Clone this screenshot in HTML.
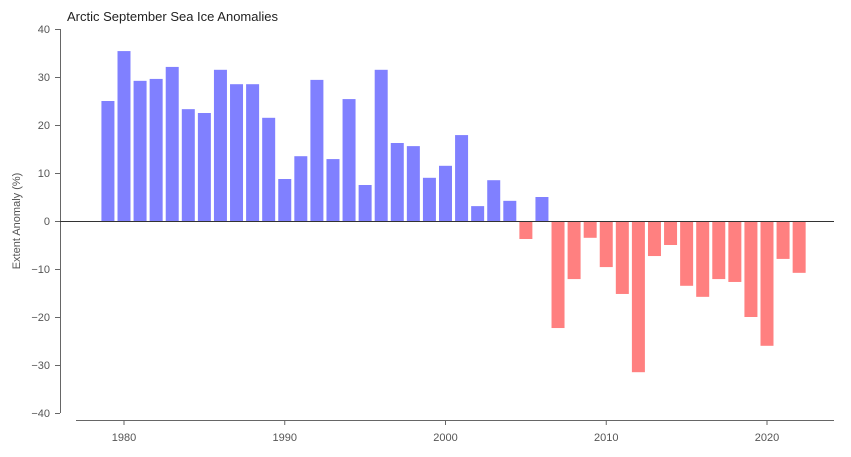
<!DOCTYPE html>
<html><head><meta charset="utf-8"><style>
body{margin:0;background:#fff;font-family:"Liberation Sans",sans-serif}
svg text{font-family:"Liberation Sans",sans-serif}
</style></head><body>
<svg width="851" height="452" id="c">
<text x="67" y="21" font-size="13" fill="#222">Arctic September Sea Ice Anomalies</text>
<text transform="translate(20,221) rotate(-90)" text-anchor="middle" font-size="11" fill="#555">Extent Anomaly (%)</text>
<line x1="60.5" y1="29" x2="60.5" y2="413" stroke="#666"/>
<line x1="76" y1="420.5" x2="834" y2="420.5" stroke="#666"/>
<g id="bars"></g><g id="ticks"></g>
<line x1="60" y1="221.5" x2="834" y2="221.5" stroke="#333" stroke-width="1"/>
</svg>
<script>
const years=[1979,1980,1981,1982,1983,1984,1985,1986,1987,1988,1989,1990,1991,1992,1993,1994,1995,1996,1997,1998,1999,2000,2001,2002,2003,2004,2005,2006,2007,2008,2009,2010,2011,2012,2013,2014,2015,2016,2017,2018,2019,2020,2021,2022];
const anomalies=[25.0,35.4,29.2,29.6,32.1,23.3,22.5,31.5,28.5,28.5,21.5,8.75,13.5,29.4,12.9,25.4,7.5,31.5,16.25,15.6,9.0,11.5,17.9,3.1,8.5,4.2,-3.75,5.0,-22.3,-12.1,-3.5,-9.6,-15.2,-31.5,-7.3,-5.0,-13.5,-15.8,-12.1,-12.7,-20,-26,-7.9,-10.8];
const yTicks=[-40,-30,-20,-10,0,10,20,30,40];
const xTicks=[1980,1990,2000,2010,2020];
const ns="http://www.w3.org/2000/svg";
const xs=y=>124+(y-1980)*16.075;
const ys=v=>221-v*4.8;
const bars=document.getElementById('bars'),ticks=document.getElementById('ticks');
years.forEach((yr,i)=>{const v=anomalies[i];const r=document.createElementNS(ns,'rect');
r.setAttribute('x',xs(yr)-6.5);r.setAttribute('width',13);
r.setAttribute('y',Math.min(ys(v),ys(0)));r.setAttribute('height',Math.abs(ys(v)-ys(0)));
r.setAttribute('fill',v>=0?'#8080ff':'#ff8080');


bars.appendChild(r);});
yTicks.forEach(t=>{const l=document.createElementNS(ns,'line');l.setAttribute('x1',55);l.setAttribute('x2',60);l.setAttribute('y1',ys(t)+0.5);l.setAttribute('y2',ys(t)+0.5);l.setAttribute('stroke','#666');


ticks.appendChild(l);
const tx=document.createElementNS(ns,'text');tx.setAttribute('x',50);tx.setAttribute('y',ys(t)+4);tx.setAttribute('text-anchor','end');tx.setAttribute('font-size','11');tx.setAttribute('fill','#555');tx.textContent=t<0?'\u2212'+(-t):t;


ticks.appendChild(tx);});
xTicks.forEach(t=>{const l=document.createElementNS(ns,'line');l.setAttribute('x1',xs(t));l.setAttribute('x2',xs(t));l.setAttribute('y1',420);l.setAttribute('y2',425);l.setAttribute('stroke','#666');


ticks.appendChild(l);
const tx=document.createElementNS(ns,'text');tx.setAttribute('x',xs(t));tx.setAttribute('y',441);tx.setAttribute('text-anchor','middle');tx.setAttribute('font-size','11');tx.setAttribute('fill','#555');tx.textContent=t;


ticks.appendChild(tx);});
</script>
</body></html>
